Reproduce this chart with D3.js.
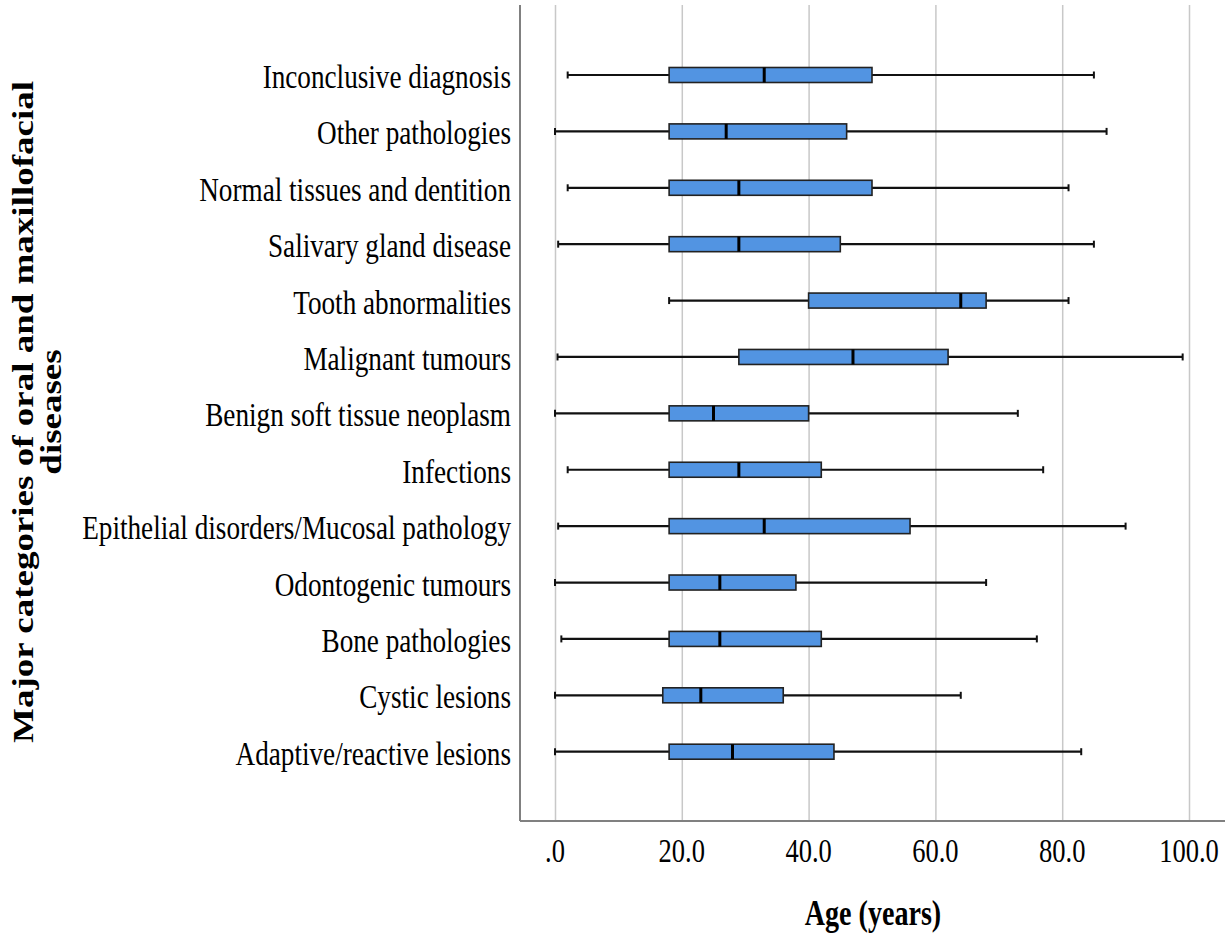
<!DOCTYPE html>
<html>
<head>
<meta charset="utf-8">
<script src="https://cdn.jsdelivr.net/npm/d3@7"></script>
<style>
  body { margin: 0; background: #fff; }
  text { font-family: "Liberation Serif", "Times New Roman", serif; fill: #000; }
</style>
</head>
<body>
<script>
// categories, top to bottom
var categories = [
    'Inconclusive diagnosis',
    'Other pathologies',
    'Normal tissues and dentition',
    'Salivary gland disease',
    'Tooth abnormalities',
    'Malignant tumours',
    'Benign soft tissue neoplasm',
    'Infections',
    'Epithelial disorders/Mucosal pathology',
    'Odontogenic tumours',
    'Bone pathologies',
    'Cystic lesions',
    'Adaptive/reactive lesions'
];

// five number summaries (age, years)
var minAge    = [2, 0, 2, 0.5, 18, 0.4, 0, 2, 0.5, 0, 1, 0, 0];
var q1Age     = [18, 18, 18, 18, 40, 29, 18, 18, 18, 18, 18, 17, 18];
var medianAge = [33, 27, 29, 29, 64, 47, 25, 29, 33, 26, 26, 23, 28];
var q3Age     = [50, 46, 50, 45, 68, 62, 40, 42, 56, 38, 42, 36, 44];
var maxAge    = [85, 87, 81, 85, 81, 99, 73, 77, 90, 68, 76, 64, 83];

// x axis ticks
var tickValues = [0, 20, 40, 60, 80, 100];
var tickLabels = ['.0', '20.0', '40.0', '60.0', '80.0', '100.0'];

var data = categories.map(function(name, i) {
    return {name: name, min: minAge[i], q1: q1Age[i], median: medianAge[i], q3: q3Age[i], max: maxAge[i]};
});

var width = 1230, height = 940;
// plot frame
var frame = {left: 520, right: 1225, top: 5, bottom: 821};
var squeeze = 0.78;   // the original text is narrow, like a squeezed Times face

var svg = d3.select('body').append('svg')
    .attr('width', width)
    .attr('height', height);

var x = d3.scaleLinear().domain([0, 100]).range([555, 1189]);
var y = d3.scalePoint().domain(categories).range([75, 751.7]);

var boxH = 15, capH = 7;

// grid lines
svg.append('g')
    .attr('transform', 'translate(0,' + frame.bottom + ')')
    .call(d3.axisBottom(x).tickValues(tickValues).tickSize(-(frame.bottom - frame.top)).tickFormat(''))
    .call(function(g) {
        g.select('.domain').remove();
        g.selectAll('.tick line').attr('stroke', '#c8c8c8').attr('stroke-width', 1.5);
    });

// frame lines (left and bottom)
svg.append('line')
    .attr('x1', frame.left).attr('x2', frame.left)
    .attr('y1', frame.top).attr('y2', frame.bottom)
    .attr('stroke', '#808080').attr('stroke-width', 2);
svg.append('line')
    .attr('x1', frame.left).attr('x2', frame.right)
    .attr('y1', frame.bottom).attr('y2', frame.bottom)
    .attr('stroke', '#808080').attr('stroke-width', 2);

// tick labels
svg.selectAll('.tick-label')
    .data(tickValues)
    .enter().append('text')
    .attr('class', 'tick-label')
    .attr('transform', function(d) { return 'translate(' + x(d) + ',862) scale(' + squeeze + ',1)'; })
    .attr('text-anchor', 'middle')
    .style('font-size', '34px')
    .text(function(d, i) { return tickLabels[i]; });

// category labels
svg.selectAll('.cat-label')
    .data(categories)
    .enter().append('text')
    .attr('class', 'cat-label')
    .attr('transform', function(d) { return 'translate(511,' + (y(d) + 13) + ') scale(0.8,1)'; })
    .attr('text-anchor', 'end')
    .style('font-size', '34px')
    .text(function(d) { return d; });

// one group per box
var rows = svg.selectAll('.row')
    .data(data)
    .enter().append('g')
    .attr('class', 'row')
    .attr('transform', function(d) { return 'translate(0,' + y(d.name) + ')'; });

// whisker line
rows.append('line')
    .attr('x1', function(d) { return x(d.min); })
    .attr('x2', function(d) { return x(d.max); })
    .attr('stroke', '#111').attr('stroke-width', 2.2);

// whisker caps
rows.selectAll('.cap')
    .data(function(d) { return [d.min, d.max]; })
    .enter().append('line')
    .attr('class', 'cap')
    .attr('x1', function(v) { return x(v); })
    .attr('x2', function(v) { return x(v); })
    .attr('y1', -capH / 2).attr('y2', capH / 2)
    .attr('stroke', '#111').attr('stroke-width', 2);

// box
rows.append('rect')
    .attr('x', function(d) { return x(d.q1); })
    .attr('y', -boxH / 2)
    .attr('width', function(d) { return x(d.q3) - x(d.q1); })
    .attr('height', boxH)
    .attr('fill', '#5294e2')
    .attr('stroke', '#222').attr('stroke-width', 1.6);

// median
rows.append('line')
    .attr('x1', function(d) { return x(d.median); })
    .attr('x2', function(d) { return x(d.median); })
    .attr('y1', -boxH / 2).attr('y2', boxH / 2)
    .attr('stroke', '#000').attr('stroke-width', 3);

// x axis title
svg.append('text')
    .attr('transform', 'translate(873,925) scale(' + squeeze + ',1)')
    .attr('text-anchor', 'middle')
    .style('font-size', '36px')
    .style('font-weight', 'bold')
    .text('Age (years)');

// y axis title, two lines, rotated
var yTitle = svg.append('g')
    .attr('transform', 'translate(33,412) rotate(-90) scale(1,0.82)');
yTitle.append('text')
    .attr('text-anchor', 'middle')
    .style('font-size', '37px')
    .style('font-weight', 'bold')
    .text('Major categories of oral and maxillofacial');
yTitle.append('text')
    .attr('y', 34)
    .attr('text-anchor', 'middle')
    .style('font-size', '37px')
    .style('font-weight', 'bold')
    .text('diseases');
</script>
</body>
</html>
